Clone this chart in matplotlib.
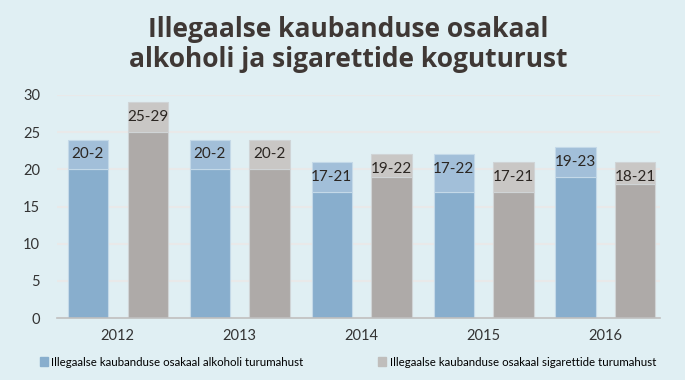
import numpy as np
import matplotlib
matplotlib.use("Agg")
from matplotlib import pyplot as plt
from matplotlib.patches import Patch

plt.rcParams['font.family'] = ['Lato', 'DejaVu Sans']

years = ['2012', '2013', '2014', '2015', '2016']
alc_low = [20, 20, 17, 17, 19]
alc_high = [24, 24, 21, 22, 23]
alc_labels = ['20-2', '20-2', '17-21', '17-22', '19-23']
cig_low = [25, 20, 19, 17, 18]
cig_high = [29, 24, 22, 21, 21]
cig_labels = ['25-29', '20-2', '19-22', '17-21', '18-21']

bg = '#e0eff3'
fig = plt.figure(figsize=(6.85, 3.8), dpi=100, facecolor=bg)
ax = fig.add_axes([0.083, 0.163, 0.881, 0.587], facecolor=bg)

x = np.arange(len(years))
w = 0.33
off = 0.245

# base part and range part of each bar
ax.bar(x - off, alc_low, w, color='#88aecd', edgecolor='#c4d9e8', linewidth=0.8, zorder=2)
ax.bar(x - off, np.array(alc_high) - np.array(alc_low), w, bottom=alc_low,
       color='#a2bfd9', edgecolor='#c4d9e8', linewidth=0.8, zorder=2)
ax.bar(x + off, cig_low, w, color='#aeaaa8', edgecolor='#d0d4d6', linewidth=0.8, zorder=2)
ax.bar(x + off, np.array(cig_high) - np.array(cig_low), w, bottom=cig_low,
       color='#c9c7c5', edgecolor='#d0d4d6', linewidth=0.8, zorder=2)

for i in range(len(years)):
    ax.text(x[i] - off, alc_high[i] - 2, alc_labels[i], ha='center', va='center',
            fontsize=11, color='#2b2622', zorder=3)
    ax.text(x[i] + off, cig_high[i] - 2, cig_labels[i], ha='center', va='center',
            fontsize=11, color='#2b2622', zorder=3)

ax.set_ylim(0, 30)
ax.set_xlim(-0.5, 4.45)
ax.set_yticks(range(0, 31, 5))
ax.set_xticks(x)
ax.set_xticklabels(years)
ax.tick_params(axis='both', length=0, labelsize=10.5, colors='#333333')
ax.tick_params(axis='x', pad=8)
ax.tick_params(axis='y', pad=12)
ax.grid(axis='y', color='#e9e9e9', linewidth=1.5, zorder=0)
for s in ['top', 'right', 'left']:
    ax.spines[s].set_visible(False)
ax.spines['bottom'].set_color('#bfbfbf')
ax.spines['bottom'].set_linewidth(1.2)

fig.text(0.508, 0.903, 'Illegaalse kaubanduse osakaal', ha='center', va='baseline',
         fontsize=19, fontweight='bold', color='#3f3835', family='Open Sans')
fig.text(0.508, 0.824, 'alkoholi ja sigarettide koguturust', ha='center', va='baseline',
         fontsize=19, fontweight='bold', color='#3f3835', family='Open Sans')

handles = [Patch(color='#88aecd'), Patch(color='#c0bebc')]
names = ['Illegaalse kaubanduse osakaal alkoholi turumahust',
         'Illegaalse kaubanduse osakaal sigarettide turumahust']
fig.legend(handles, names, loc='center', bbox_to_anchor=(0.508, 0.047), ncol=2,
           frameon=False, fontsize=8.3, handlelength=0.7, handleheight=0.9,
           handletextpad=0.3, columnspacing=6.5)

plt.savefig('out.png', dpi=100, facecolor=bg)
